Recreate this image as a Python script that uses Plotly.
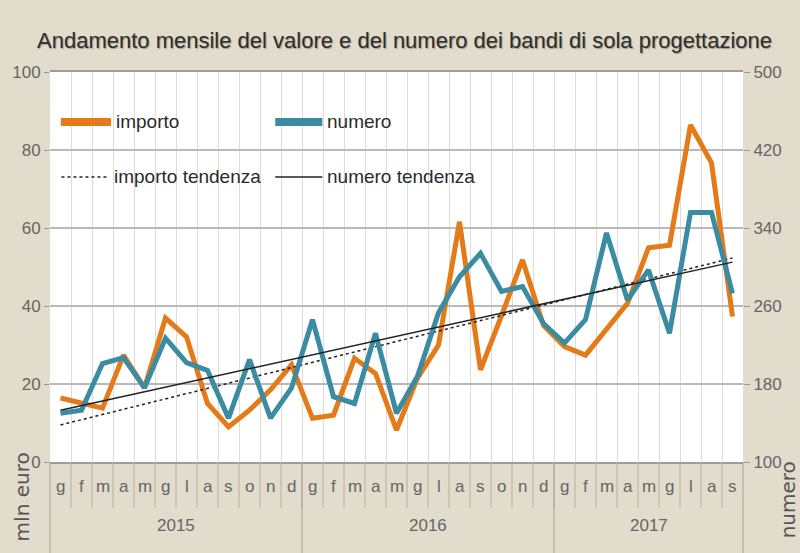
import plotly.graph_objects as go

# ---- data ----
months = ["g", "f", "m", "a", "m", "g", "l", "a", "s", "o", "n", "d",
          "g", "f", "m", "a", "m", "g", "l", "a", "s", "o", "n", "d",
          "g", "f", "m", "a", "m", "g", "l", "a", "s"]
years = ["2015", "2016", "2017"]
year_lengths = [12, 12, 9]

importo = [16.4, 15.0, 13.8, 27.4, 19.0, 36.9, 32.1, 15.0, 9.0, 13.3, 18.5, 24.9,
           11.2, 12.0, 26.6, 22.7, 8.2, 21.5, 30.0, 61.6, 23.6, 37.5, 51.8, 35.0,
           29.6, 27.4, 34.2, 40.7, 54.9, 55.6, 86.4, 76.7, 37.3]
numero = [150, 153, 201, 207, 176, 227, 202, 194, 145, 205, 145, 176,
          246, 167, 160, 232, 150, 188, 253, 290, 314, 275, 280, 242,
          222, 246, 335, 266, 297, 232, 356, 356, 273]
importo_trend = [9.5, 52.3]     # first / last month
numero_trend = [153, 305]       # first / last month

x = list(range(len(months)))
x_trend = [x[0], x[-1]]

ORANGE = "#e47a18"
BLUE = "#3b8ba2"
BG = "#e1dccb"
NARROW = "Liberation Sans Narrow, Arial Narrow, Liberation Sans, Arial, sans-serif"
WIDE = "DejaVu Sans, Verdana, sans-serif"

fig = go.Figure()
fig.add_trace(go.Scatter(x=x, y=importo, mode="lines", name="importo",
                         line=dict(color=ORANGE, width=5), yaxis="y"))
fig.add_trace(go.Scatter(x=x, y=numero, mode="lines", name="numero",
                         line=dict(color=BLUE, width=5), yaxis="y2"))
fig.add_trace(go.Scatter(x=x_trend, y=importo_trend, mode="lines", name="importo tendenza",
                         line=dict(color="#222222", width=1.5, dash="dot"), yaxis="y"))
fig.add_trace(go.Scatter(x=x_trend, y=numero_trend, mode="lines", name="numero tendenza",
                         line=dict(color="#222222", width=1.5), yaxis="y2"))

shapes = []
annotations = []
lab_font = dict(family=NARROW, size=17, color="#666")

# month separators and labels
for i, m in enumerate(months):
    annotations.append(dict(x=i, y=-0.092, xref="x", yref="paper", text=m,
                            showarrow=False, font=lab_font))
    if i > 0:
        shapes.append(dict(type="line", xref="x", yref="paper", x0=i - 0.5, x1=i - 0.5,
                           y0=0, y1=-0.118, line=dict(color="#b5b0a0", width=1)))
# year separators and labels
start = 0
for yr, n in zip(years, year_lengths):
    annotations.append(dict(x=start + (n - 1) / 2, y=-0.192, xref="x", yref="paper", text=yr,
                            showarrow=False, font=lab_font))
    start += n
    if start < len(months):
        shapes.append(dict(type="line", xref="x", yref="paper", x0=start - 0.5, x1=start - 0.5,
                           y0=0, y1=-0.24, line=dict(color="#a8a394", width=1)))
# outer edges below plot
for xe in [0, 1]:
    shapes.append(dict(type="line", xref="paper", yref="paper", x0=xe, x1=xe,
                       y0=0, y1=-0.24, line=dict(color="#a8a394", width=1)))

# custom legend
leg_font = dict(family=NARROW, size=19, color="#2b2b2b")
legend_items = [
    (0.0156, 0.088, 0.872, dict(color=ORANGE, width=8), "importo"),
    (0.0165, 0.086, 0.731, dict(color="#222", width=1.5, dash="dot"), "importo tendenza"),
    (0.325, 0.393, 0.872, dict(color=BLUE, width=8), "numero"),
    (0.325, 0.393, 0.731, dict(color="#222", width=1.5), "numero tendenza"),
]
for x0, x1, yy, ln, txt in legend_items:
    shapes.append(dict(type="line", xref="paper", yref="paper", x0=x0, x1=x1,
                       y0=yy, y1=yy, line=ln))
    annotations.append(dict(x=x1 + 0.004, y=yy, xref="paper", yref="paper", text=txt,
                            xanchor="left", yanchor="middle", showarrow=False, font=leg_font))

# title and axis titles
annotations.append(dict(x=(400 - 40) / 703, y=1.0 + 32 / 390, xref="paper", yref="paper",
                        text="Andamento mensile del valore e del numero dei bandi di sola progettazione",
                        showarrow=False, xanchor="center", yanchor="middle",
                        font=dict(family=NARROW, size=22, color="#2e2e2e",
                                  shadow="1px 1px 1px #a09c8c")))
annotations.append(dict(x=-28 / 703, y=-35 / 390, xref="paper", yref="paper", text="mln euro",
                        textangle=-90, showarrow=False, xanchor="center", yanchor="middle",
                        font=dict(family=WIDE, size=20, color="#555")))
annotations.append(dict(x=1 + 46 / 703, y=-38 / 390, xref="paper", yref="paper", text="numero",
                        textangle=-90, showarrow=False, xanchor="center", yanchor="middle",
                        font=dict(family=WIDE, size=20, color="#555")))

tick_font = dict(family=NARROW, size=17, color="#666")
fig.update_layout(
    width=800, height=553,
    margin=dict(l=40, r=57, t=72, b=91),
    paper_bgcolor=BG, plot_bgcolor="#ffffff",
    showlegend=False,
    xaxis=dict(range=[-0.5, len(months) - 0.5], tick0=-0.5, dtick=1, showticklabels=False,
               showgrid=True, gridcolor="#dcdcdc", gridwidth=1, zeroline=False,
               showline=True, linecolor="#9c9c9c", linewidth=2, mirror=True, ticks=""),
    yaxis=dict(range=[0, 100], tickvals=[0, 20, 40, 60, 80, 100], showgrid=True,
               gridcolor="#b9b9b9", gridwidth=1.5, zeroline=False, ticks="outside",
               ticklen=5, tickcolor="#999", tickfont=tick_font, showline=False),
    yaxis2=dict(range=[100, 500], tickvals=[100, 180, 260, 340, 420, 500], overlaying="y",
                side="right", showgrid=False, zeroline=False, ticks="outside", ticklen=6,
                tickcolor="#999", tickfont=tick_font, showline=False),
    shapes=shapes,
    annotations=annotations,
)

fig.write_html("out.html", config={"displayModeBar": False},
               post_script="document.body.style.margin='0';document.body.style.overflow='hidden';")
